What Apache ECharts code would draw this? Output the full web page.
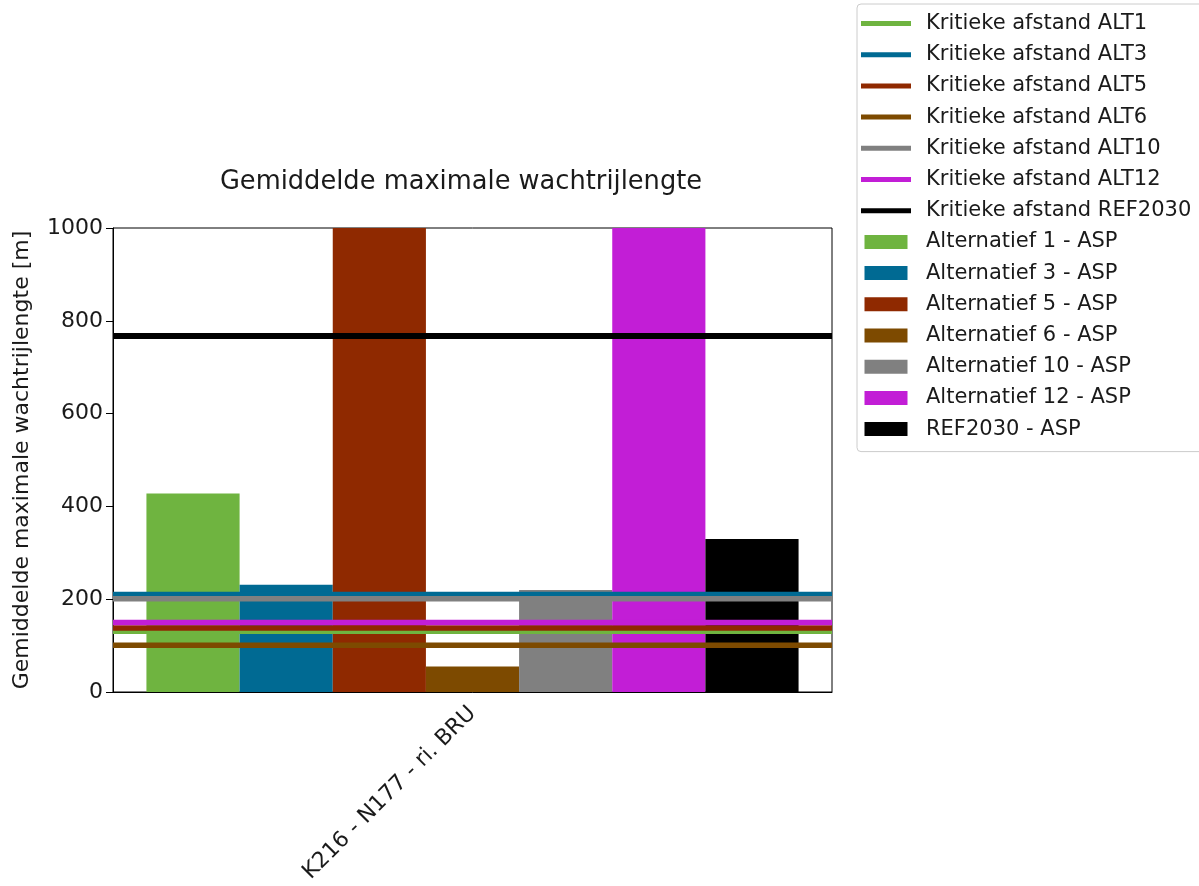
<!DOCTYPE html>
<html><head><meta charset="utf-8">
<script src="https://cdn.jsdelivr.net/npm/echarts@6/dist/echarts.min.js"></script>
<style>html,body{margin:0;padding:0;background:#fff}#c{width:1199px;height:886px}</style>
</head><body><div id="c"></div>
<script>
const categories = ['K216 - N177 - ri. BRU'];
const barNames = ['Alternatief 1 - ASP','Alternatief 3 - ASP','Alternatief 5 - ASP','Alternatief 6 - ASP','Alternatief 10 - ASP','Alternatief 12 - ASP','REF2030 - ASP'];
const barValues = [428, 231, 1000, 55, 220, 1000, 330];
const lineNames = ['Kritieke afstand ALT1','Kritieke afstand ALT3','Kritieke afstand ALT5','Kritieke afstand ALT6','Kritieke afstand ALT10','Kritieke afstand ALT12','Kritieke afstand REF2030'];
const lineValues = [131, 210, 138, 101, 201, 150, 767];
const colors = ['#6fb440','#006a93','#8f2900','#7d4a00','#808080','#c21ed6','#000000'];
const yTicks = [0, 200, 400, 600, 800, 1000];

const font = 'DejaVu Sans';
const series = [];
barNames.forEach((n, i) => {
  series.push({
    name: n, type: 'bar', xAxisIndex: 0, yAxisIndex: 0,
    data: [barValues[i]], barGap: '0%', barCategoryGap: '9.3%',
    itemStyle: { color: colors[i] }, clip: true, z: 2
  });
});
lineNames.forEach((n, i) => {
  series.push({
    name: n, type: 'line', xAxisIndex: 1, yAxisIndex: 0,
    data: [[0, lineValues[i]], [1, lineValues[i]]],
    symbol: 'none', lineStyle: { color: colors[i], width: i === 6 ? 6 : 5.5 },
    itemStyle: { color: colors[i] }, z: 5 + i
  });
});

const legendData = lineNames.map(n => ({ name: n, icon: 'path://M0,0H50V5H0Z' }))
  .concat(barNames.map(n => ({ name: n, icon: 'path://M0,0H43V14H0Z' })));

const chart = echarts.init(document.getElementById('c'), null, { renderer: 'canvas' });
chart.setOption({
  animation: false,
  backgroundColor: '#fff',
  textStyle: { fontFamily: font },
  title: {
    text: 'Gemiddelde maximale wachtrijlengte', left: 456, top: 164, textAlign: 'center',
    textStyle: { fontFamily: font, fontSize: 25.7, fontWeight: 'normal', color: '#1a1a1a' }
  },
  legend: {
    orient: 'vertical', left: 857, top: 4,
    data: legendData,
    itemWidth: 50, itemHeight: 14, itemGap: 10.2,
    symbolKeepAspect: true,
    borderColor: '#cccccc', borderWidth: 1, borderRadius: 4,
    padding: [9, 40, 12, 4],
    textStyle: { fontFamily: font, fontSize: 21, color: '#1a1a1a', padding: [0, 0, 0, 10] }
  },
  grid: { left: 113, right: 367, top: 228, bottom: 194, show: true, borderColor: '#000', borderWidth: 1, backgroundColor: 'transparent' },
  xAxis: [
    {
      type: 'category', data: categories, boundaryGap: true,
      axisLine: { lineStyle: { color: '#000' } },
      axisTick: { alignWithLabel: true, length: 7, lineStyle: { color: '#000' } },
      axisLabel: { rotate: 45, fontFamily: font, fontSize: 22, color: '#1a1a1a', margin: 18 }
    },
    { type: 'value', min: 0, max: 1, show: false }
  ],
  yAxis: {
    type: 'value', min: 0, max: 1000, interval: 200,
    name: 'Gemiddelde maximale wachtrijlengte [m]', nameLocation: 'middle', nameGap: 80,
    nameTextStyle: { fontFamily: font, fontSize: 22, color: '#1a1a1a' },
    axisLine: { show: true, lineStyle: { color: '#000' } },
    axisTick: { show: true, length: 7, lineStyle: { color: '#000' } },
    axisLabel: { fontFamily: font, fontSize: 22, color: '#1a1a1a', margin: 10,
      formatter: v => yTicks.includes(v) ? String(v) : '' },
    splitLine: { show: false }
  },
  series: series
});
</script></body></html>
